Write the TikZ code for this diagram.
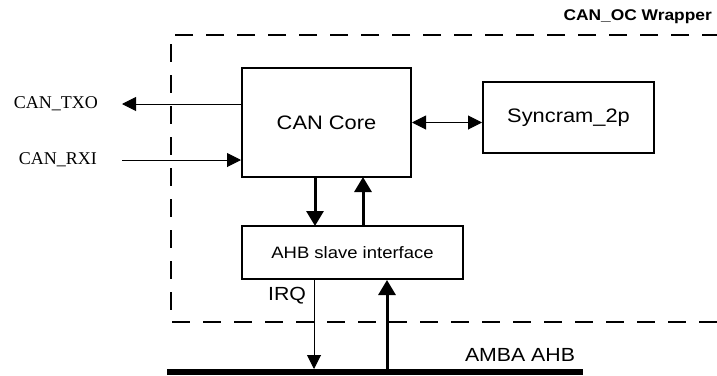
\documentclass[tikz,border=0pt]{standalone}
\usepackage{fontspec}
\setmainfont{Liberation Sans}[FakeStretch=1.12]
\newfontfamily\pinfont{Liberation Serif}
\usetikzlibrary{arrows.meta,positioning,calc}

\begin{document}
\begin{tikzpicture}[
    x=1pt, y=-1pt,
    block/.style={rectangle, draw, line width=2pt, inner sep=0pt, align=center},
    wrapper/.style={line width=1.8pt, dash pattern=on 18pt off 13pt},
    sig/.style={-{Triangle[length=14pt,width=14pt]}, line width=1pt},
    bigsig/.style={-{Triangle[length=15pt,width=17pt]}, line width=3pt},
    both/.style={{Triangle[length=14pt,width=14pt]}-{Triangle[length=14pt,width=14pt]}, line width=1pt},
    pin/.style={font=\pinfont\fontsize{18}{21}\selectfont, inner sep=0pt}
]
\useasboundingbox (0,0) rectangle (717,375);

\node[block, minimum width=169pt, minimum height=109pt, font=\fontsize{19.5}{23}\selectfont] (core) at (326.5,122.5) {CAN Core};
\node[block, minimum width=171pt, minimum height=71pt, font=\fontsize{19.5}{23}\selectfont] (sync) at (568.5,117.5) {Syncram\_2p};
\node[block, minimum width=221pt, minimum height=53pt, font=\fontsize{16.5}{19}\selectfont] (ahb) at (352.5,252.5) {AHB slave interface};

\node[pin, anchor=east] (txo) at (98,104) {CAN\_TXO};
\node[pin, anchor=east] (rxi) at (97,160) {CAN\_RXI};
\node[font=\bfseries\fontsize{15.5}{18}\selectfont, anchor=east, inner sep=0pt] (title) at (712,17) {CAN\_OC Wrapper};
\node[font=\fontsize{19}{22}\selectfont, inner sep=0pt] (irq) at (287,296) {IRQ};
\node[font=\fontsize{19}{22}\selectfont, inner sep=0pt] (amba) at (520,355) {AMBA AHB};

\coordinate (busL) at (167,372);
\coordinate (busR) at (583,372);
\coordinate (txoend) at (122,104);
\coordinate (rxistart) at (122,160);

\draw[wrapper] (720,35) -- (171,35) -- (171,322) -- (720,322);
\draw[line width=6pt] (busL) -- (busR);

\draw[sig] (core.west |- txoend) -- (txoend);
\draw[sig] (rxistart) -- (core.west |- rxistart);
\draw[both] (core.east) -- (core.east -| sync.west);
\draw[bigsig] (315,177) -- (315,226);
\draw[bigsig] (363,226) -- (363,177);
\draw[sig] (ahb.south -| 314,0) -- (314,369);
\draw[bigsig] (387,369) -- (ahb.south -| 387,0);
\end{tikzpicture}
\end{document}
